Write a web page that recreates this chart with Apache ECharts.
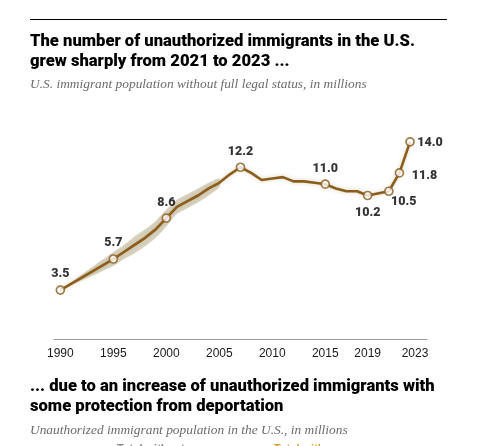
<!DOCTYPE html>
<html lang="en">
<head>
    <meta charset="utf-8">
    <script src="https://cdn.jsdelivr.net/npm/echarts@6/dist/echarts.min.js"></script>
    <style>
        html, body { margin: 0; padding: 0; background: #fff; }
        #chart { width: 492px; height: 446px; }
    </style>
</head>
<body>
    <div id="chart"></div>
    <script>
        // yearly estimates
        const years = [1990, 1995, 1996, 1997, 1998, 1999, 2000, 2001, 2002, 2003, 2004, 2005, 2006, 2007,
            2008, 2009, 2010, 2011, 2012, 2013, 2014, 2015, 2016, 2017, 2018, 2019, 2021, 2022, 2023]
        const values = [3.5, 5.7, 6.2, 6.7, 7.2, 7.8, 8.6, 9.4, 9.8, 10.2, 10.7, 11.1, 11.7, 12.2,
            11.8, 11.3, 11.4, 11.5, 11.2, 11.2, 11.1, 11.0, 10.7, 10.5, 10.5, 10.2, 10.5, 11.8, 14.0]

        // shaded range (margin of error) for the early years
        const bandYears = [1990, 1995, 1996, 1997, 1998, 1999, 2000, 2001, 2002, 2003, 2004, 2005]
        const bandLow = [3.5, 5.2, 5.7, 6.1, 6.6, 7.2, 8.0, 8.9, 9.3, 9.7, 10.2, 10.8]
        const bandHigh = [3.5, 6.2, 6.7, 7.3, 7.8, 8.4, 9.2, 9.9, 10.3, 10.7, 11.1, 11.4]

        // points that get a marker and a value label
        const labelYears = [1990, 1995, 2000, 2007, 2015, 2019, 2021, 2022, 2023]
        const tickYears = [1990, 1995, 2000, 2005, 2010, 2015, 2019, 2023]

        const brown = '#8a5d1b'
        // label offset from the marker centre
        const labelOffset = {
            1990: [0, -16], 1995: [0, -16], 2000: [0, -15], 2007: [0, -15], 2015: [0, -15],
            2019: [0, 17], 2021: [15, 11], 2022: [25, 3], 2023: [20, 1]
        }

        let lineData = years.map((y, i) => [y, values[i]])
        let markData = labelYears.map(y => {
            let v = values[years.indexOf(y)]
            return {
                value: [y, v],
                label: { offset: labelOffset[y] }
            }
        })

        let chart = echarts.init(document.querySelector('#chart'))
        chart.setOption({
            animation: false,
            title: [
                {
                    text: 'The number of unauthorized immigrants in the U.S.\ngrew sharply from 2021 to 2023 ...',
                    left: 30, top: 32, padding: 0,
                    textStyle: { fontFamily: 'Roboto', fontWeight: 900, fontSize: 16.6, lineHeight: 20, color: '#000' }
                },
                {
                    text: 'U.S. immigrant population without full legal status, in millions',
                    left: 30, top: 78, padding: 0,
                    textStyle: { fontFamily: 'Liberation Serif', fontStyle: 'italic', fontWeight: 'normal', fontSize: 13.4, color: '#6b6b6b' }
                },
                {
                    text: '... due to an increase of unauthorized immigrants with\nsome protection from deportation',
                    left: 30, top: 377, padding: 0,
                    textStyle: { fontFamily: 'Roboto', fontWeight: 900, fontSize: 16.6, lineHeight: 20, color: '#000' }
                },
                {
                    text: 'Unauthorized immigrant population in the U.S., in millions',
                    left: 30, top: 424, padding: 0,
                    textStyle: { fontFamily: 'Liberation Serif', fontStyle: 'italic', fontWeight: 'normal', fontSize: 13.4, color: '#6b6b6b' }
                }
            ],
            graphic: [
                { type: 'line', shape: { x1: 30, y1: 19.5, x2: 447, y2: 19.5 }, style: { stroke: '#000', lineWidth: 1 } },
                { type: 'text', left: 117, top: 443, style: { text: 'Total without', fill: '#8a8a8a', font: 'bold 11px "Liberation Sans"' } },
                { type: 'text', left: 274, top: 443, style: { text: 'Total with', fill: '#d99a2b', font: 'bold 11px "Liberation Sans"' } }
            ],
            grid: { left: 54, width: 373, top: 113.6, bottom: 106.5 },
            xAxis: {
                type: 'value',
                min: 1989.4,
                max: 2024.6,
                splitLine: { show: false },
                axisTick: { show: false },
                axisLine: { show: true, lineStyle: { color: '#999', width: 1 } },
                axisLabel: {
                    customValues: tickYears,
                    margin: 8,
                    color: '#1a1a1a',
                    fontFamily: 'Liberation Sans',
                    fontSize: 12,
                    formatter: v => v === 2023 ? '{r|2023}' : String(v),
                    rich: { r: { padding: [0, 0, 0, 10], color: '#1a1a1a', fontFamily: 'Liberation Sans', fontSize: 12 } }
                }
            },
            yAxis: {
                type: 'value',
                min: 0,
                max: 16,
                show: false
            },
            series: [
                {
                    // band drawn as one polygon: top edge forward, bottom edge back
                    type: 'custom',
                    data: bandYears.map((y, i) => [y, bandLow[i], bandHigh[i]]),
                    encode: { x: 0, y: [1, 2] },
                    silent: true,
                    renderItem: function (params, api) {
                        if (params.dataIndex !== 0) return
                        let pts = []
                        bandYears.forEach((y, i) => pts.push(api.coord([y, bandHigh[i]])))
                        for (let i = bandYears.length - 1; i >= 0; i--) pts.push(api.coord([bandYears[i], bandLow[i]]))
                        return {
                            type: 'polygon',
                            shape: { points: pts, smooth: 0.25 },
                            style: { fill: '#d8d2c1' }
                        }
                    }
                },
                {
                    type: 'line',
                    data: lineData,
                    symbol: 'none',
                    lineStyle: {
                        color: brown, width: 2.6,
                        shadowColor: 'rgba(150,120,60,0.35)', shadowBlur: 4
                    }
                },
                {
                    type: 'scatter',
                    data: markData,
                    symbol: 'circle',
                    symbolSize: 8,
                    itemStyle: { color: '#fff', borderColor: brown, borderWidth: 1.7 },
                    label: {
                        show: true,
                        position: 'inside',
                        formatter: p => p.value[1].toFixed(1),
                        color: '#000',
                        fontFamily: 'Roboto',
                        fontWeight: 900,
                        fontSize: 12.5
                    },
                    z: 5
                }
            ]
        })
    </script>
</body>
</html>
